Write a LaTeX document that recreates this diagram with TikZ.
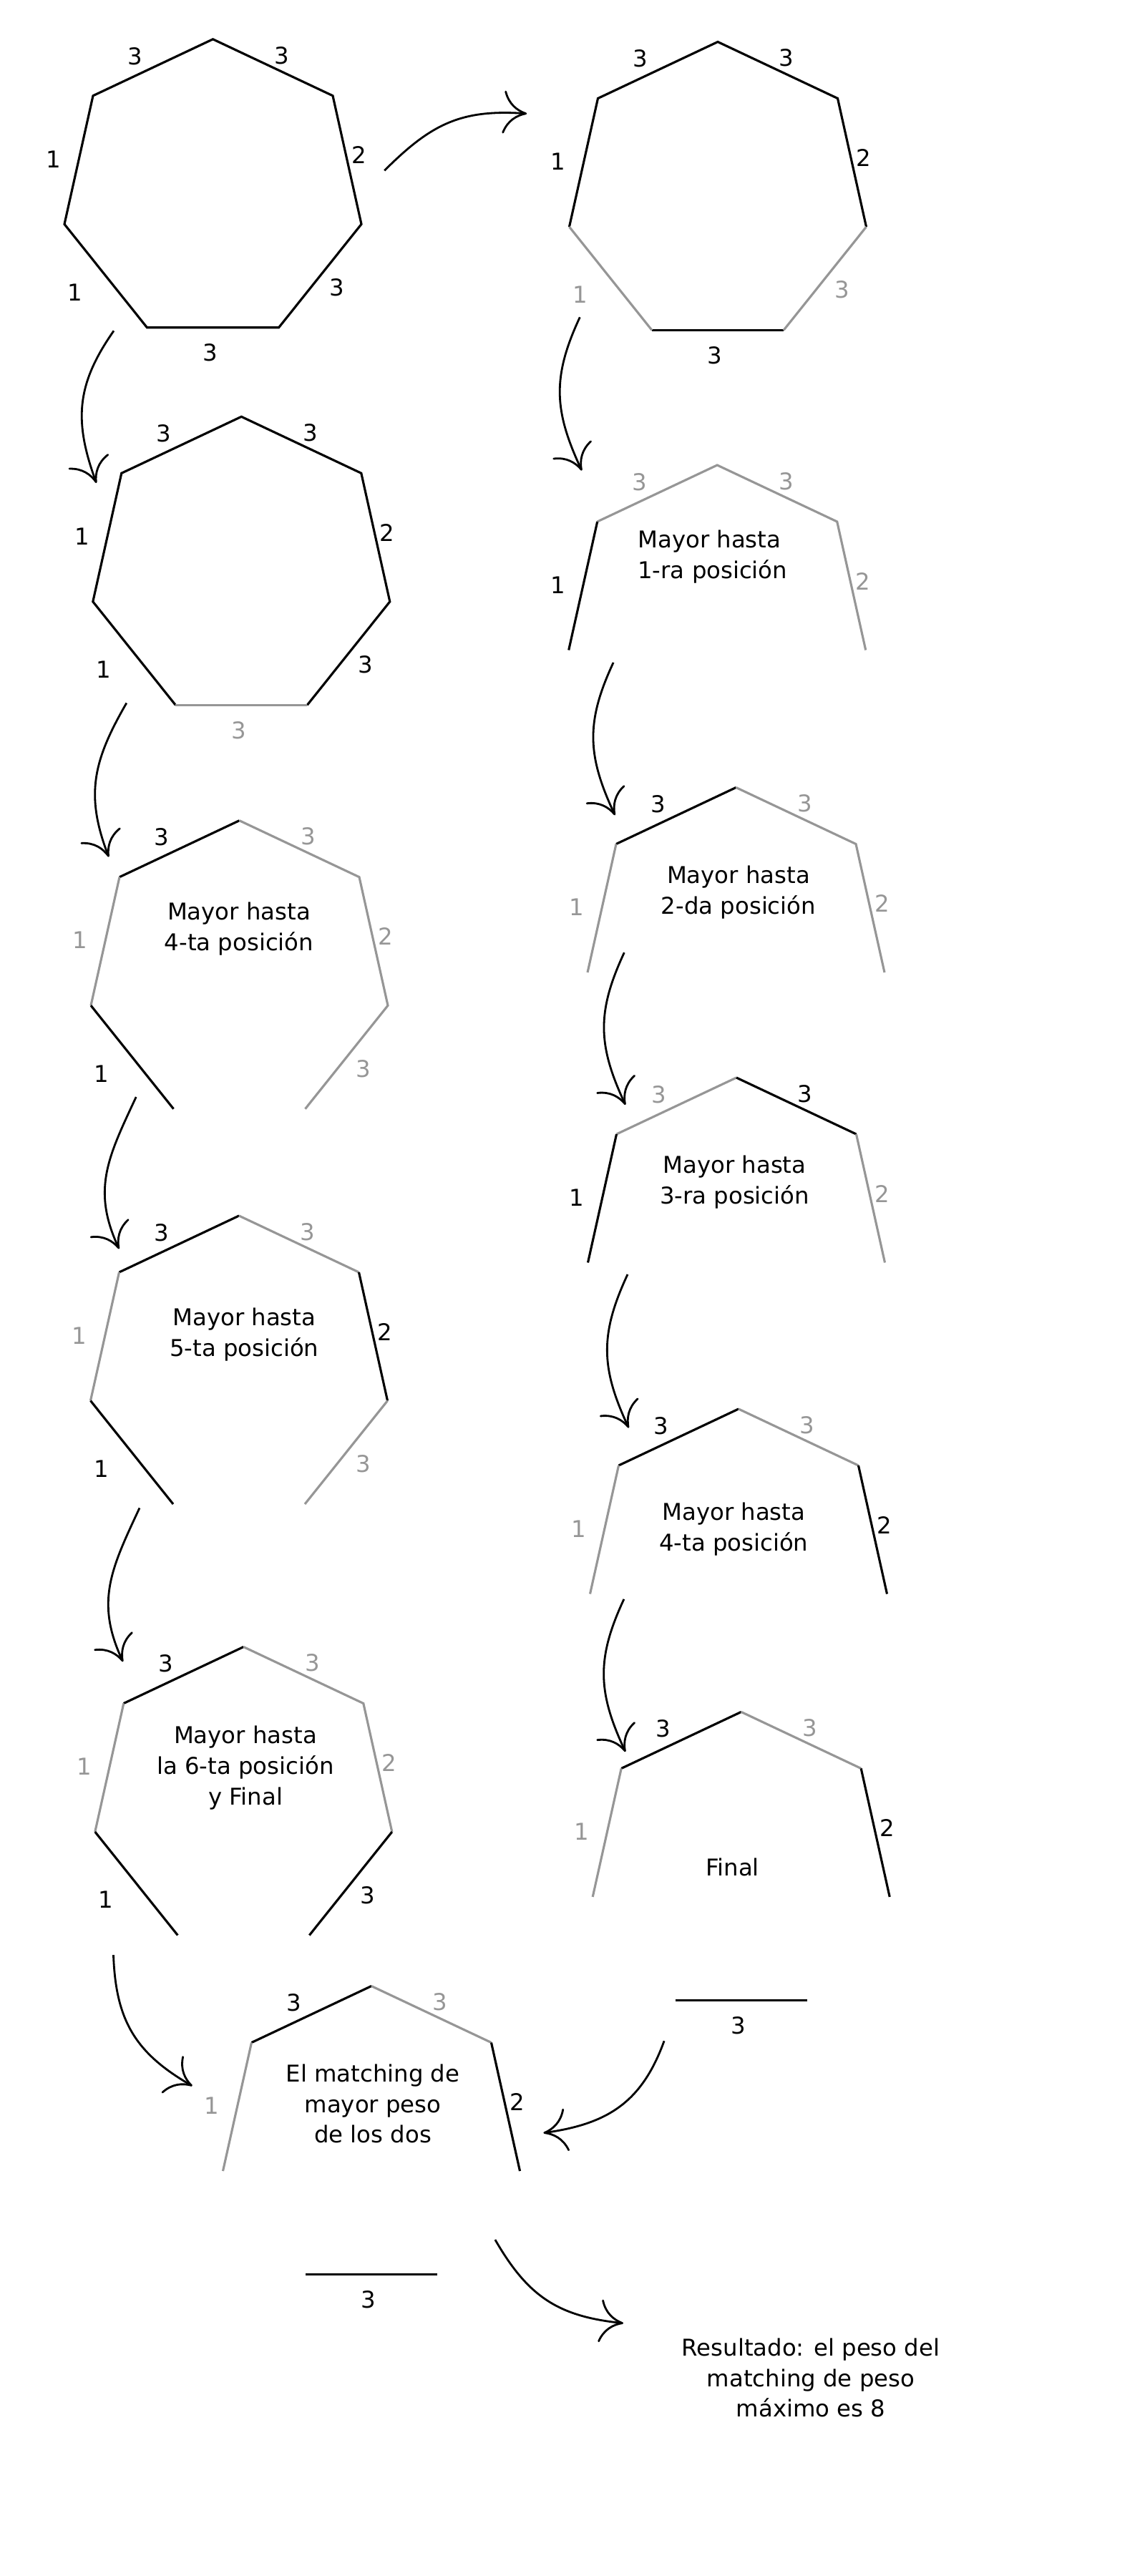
\documentclass[tikz,border=0pt]{standalone}
\usepackage{fontspec}
\setmainfont{DejaVu Sans}
\usetikzlibrary{arrows.meta}

\begin{document}
\begin{tikzpicture}[
  font=\fontsize{9.2}{12.2}\selectfont,
  chosen/.style={black, line width=0.9pt},
  skipped/.style={edgegray, line width=0.9pt},
  wk/.style={black},
  wg/.style={edgegray},
  rotulo/.style={align=center},
  flow/.style={-{Computer Modern Rightarrow[length=3.3mm,width=6mm]}, line width=0.8pt, looseness=1.1}
]
\definecolor{edgegray}{RGB}{150,150,150}
\useasboundingbox (0,0) rectangle (16,-36);

% ======================= COLUMNA IZQUIERDA =======================
% Heptagono inicial
\begin{scope}[shift={(2.975,-0.548)}]
  \draw[chosen] (0,0) -- (1.675,-0.79) -- (2.075,-2.585) -- (0.92,-4.03) -- (-0.92,-4.03) -- (-2.075,-2.585) -- (-1.675,-0.79) -- cycle;
  \node[wk] (A-tl) at (-1.085,-0.235) {3};
  \node[wk] (A-tr) at (0.962,-0.225) {3};
  \node[wk] (A-l) at (-2.228,-1.675) {1};
  \node[wk] (A-r) at (2.038,-1.62) {2};
  \node[wk] (A-ll) at (-1.925,-3.535) {1};
  \node[wk] (A-lr) at (1.735,-3.467) {3};
  \node[wk] (A-b) at (-0.04,-4.38) {3};
\end{scope}

% Sin la ultima arista
\begin{scope}[shift={(3.373,-5.823)}]
  \draw[chosen] (-0.92,-4.03) -- (-2.075,-2.585) -- (-1.675,-0.79) -- (0,0) -- (1.675,-0.79) -- (2.075,-2.585) -- (0.92,-4.03);
  \draw[skipped] (-0.92,-4.03) -- (0.92,-4.03);
  \node[wk] (C-tl) at (-1.085,-0.235) {3};
  \node[wk] (C-tr) at (0.962,-0.225) {3};
  \node[wk] (C-l) at (-2.228,-1.675) {1};
  \node[wk] (C-r) at (2.038,-1.62) {2};
  \node[wk] (C-ll) at (-1.925,-3.535) {1};
  \node[wk] (C-lr) at (1.735,-3.467) {3};
  \node[wg] (C-b) at (-0.04,-4.38) {3};
\end{scope}

% Mayor hasta 4-ta posicion
\begin{scope}[shift={(3.345,-11.467)}]
  \draw[chosen] (-1.675,-0.79) -- (0,0);
  \draw[skipped] (0,0) -- (1.675,-0.79) -- (2.075,-2.585) -- (0.92,-4.03);
  \draw[skipped] (-1.675,-0.79) -- (-2.075,-2.585);
  \draw[chosen] (-2.075,-2.585) -- (-0.92,-4.03);
  \node[wk] (E-tl) at (-1.085,-0.235) {3};
  \node[wg] (E-tr) at (0.962,-0.225) {3};
  \node[wg] (E-l) at (-2.228,-1.675) {1};
  \node[wg] (E-r) at (2.038,-1.62) {2};
  \node[wk] (E-ll) at (-1.925,-3.535) {1};
  \node[wg] (E-lr) at (1.735,-3.467) {3};
\end{scope}
\node[rotulo] (E-text) at (3.34,-12.984) {Mayor hasta\\4-ta posición};

% Mayor hasta 5-ta posicion
\begin{scope}[shift={(3.34,-16.99)}]
  \draw[chosen] (-1.675,-0.79) -- (0,0);
  \draw[skipped] (0,0) -- (1.675,-0.79);
  \draw[skipped] (-1.675,-0.79) -- (-2.075,-2.585);
  \draw[chosen] (1.675,-0.79) -- (2.075,-2.585);
  \draw[chosen] (-2.075,-2.585) -- (-0.92,-4.03);
  \draw[skipped] (2.075,-2.585) -- (0.92,-4.03);
  \node[wk] (K-tl) at (-1.085,-0.235) {3};
  \node[wg] (K-tr) at (0.962,-0.225) {3};
  \node[wg] (K-l) at (-2.228,-1.675) {1};
  \node[wk] (K-r) at (2.038,-1.62) {2};
  \node[wk] (K-ll) at (-1.925,-3.535) {1};
  \node[wg] (K-lr) at (1.735,-3.467) {3};
\end{scope}
\node[rotulo] (K-text) at (3.413,-18.653) {Mayor hasta\\5-ta posición};

% Mayor hasta la 6-ta posicion y Final
\begin{scope}[shift={(3.403,-23.015)}]
  \draw[chosen] (-1.675,-0.79) -- (0,0);
  \draw[skipped] (0,0) -- (1.675,-0.79) -- (2.075,-2.585);
  \draw[skipped] (-1.675,-0.79) -- (-2.075,-2.585);
  \draw[chosen] (-2.075,-2.585) -- (-0.92,-4.03);
  \draw[chosen] (2.075,-2.585) -- (0.92,-4.03);
  \node[wk] (L-tl) at (-1.085,-0.235) {3};
  \node[wg] (L-tr) at (0.962,-0.225) {3};
  \node[wg] (L-l) at (-2.228,-1.675) {1};
  \node[wg] (L-r) at (2.038,-1.62) {2};
  \node[wk] (L-ll) at (-1.925,-3.535) {1};
  \node[wk] (L-lr) at (1.735,-3.467) {3};
\end{scope}
\node[rotulo] (L-text) at (3.43,-24.703) {Mayor hasta\\la 6-ta posición\\y Final};

% ======================= COLUMNA DERECHA =======================
% Sin la primera arista
\begin{scope}[shift={(10.03,-0.585)}]
  \draw[chosen] (-2.075,-2.585) -- (-1.675,-0.79) -- (0,0) -- (1.675,-0.79) -- (2.075,-2.585);
  \draw[chosen] (-0.92,-4.03) -- (0.92,-4.03);
  \draw[skipped] (-2.075,-2.585) -- (-0.92,-4.03);
  \draw[skipped] (2.075,-2.585) -- (0.92,-4.03);
  \node[wk] (B-tl) at (-1.085,-0.235) {3};
  \node[wk] (B-tr) at (0.962,-0.225) {3};
  \node[wk] (B-l) at (-2.228,-1.675) {1};
  \node[wk] (B-r) at (2.038,-1.62) {2};
  \node[wg] (B-ll) at (-1.925,-3.535) {1};
  \node[wg] (B-lr) at (1.735,-3.467) {3};
  \node[wk] (B-b) at (-0.04,-4.38) {3};
\end{scope}

% Mayor hasta 1-ra posicion
\begin{scope}[shift={(10.022,-6.50)}]
  \draw[skipped] (-1.675,-0.79) -- (0,0) -- (1.675,-0.79) -- (2.075,-2.585);
  \draw[chosen] (-1.675,-0.79) -- (-2.075,-2.585);
  \node[wg] (D-tl) at (-1.085,-0.235) {3};
  \node[wg] (D-tr) at (0.962,-0.225) {3};
  \node[wk] (D-l) at (-2.228,-1.675) {1};
  \node[wg] (D-r) at (2.038,-1.62) {2};
\end{scope}
\node[align=left, anchor=west] (D-text) at (8.79,-7.783) {Mayor hasta\\1-ra posición};

% Mayor hasta 2-da posicion
\begin{scope}[shift={(10.285,-11.005)}]
  \draw[chosen] (-1.675,-0.79) -- (0,0);
  \draw[skipped] (0,0) -- (1.675,-0.79) -- (2.075,-2.585);
  \draw[skipped] (-1.675,-0.79) -- (-2.075,-2.585);
  \node[wk] (F-tl) at (-1.085,-0.235) {3};
  \node[wg] (F-tr) at (0.962,-0.225) {3};
  \node[wg] (F-l) at (-2.228,-1.675) {1};
  \node[wg] (F-r) at (2.038,-1.62) {2};
\end{scope}
\node[rotulo] (F-text) at (10.32,-12.475) {Mayor hasta\\2-da posición};

% Mayor hasta 3-ra posicion
\begin{scope}[shift={(10.29,-15.06)}]
  \draw[skipped] (-1.675,-0.79) -- (0,0);
  \draw[chosen] (0,0) -- (1.675,-0.79);
  \draw[chosen] (-1.675,-0.79) -- (-2.075,-2.585);
  \draw[skipped] (1.675,-0.79) -- (2.075,-2.585);
  \node[wg] (G-tl) at (-1.085,-0.235) {3};
  \node[wk] (G-tr) at (0.962,-0.225) {3};
  \node[wk] (G-l) at (-2.228,-1.675) {1};
  \node[wg] (G-r) at (2.038,-1.62) {2};
\end{scope}
\node[rotulo] (G-text) at (10.265,-16.518) {Mayor hasta\\3-ra posición};

% Mayor hasta 4-ta posicion
\begin{scope}[shift={(10.32,-19.69)}]
  \draw[chosen] (-1.675,-0.79) -- (0,0);
  \draw[skipped] (0,0) -- (1.675,-0.79);
  \draw[skipped] (-1.675,-0.79) -- (-2.075,-2.585);
  \draw[chosen] (1.675,-0.79) -- (2.075,-2.585);
  \node[wk] (H-tl) at (-1.085,-0.235) {3};
  \node[wg] (H-tr) at (0.962,-0.225) {3};
  \node[wg] (H-l) at (-2.228,-1.675) {1};
  \node[wk] (H-r) at (2.038,-1.62) {2};
\end{scope}
\node[rotulo] (H-text) at (10.253,-21.373) {Mayor hasta\\4-ta posición};

% Final
\begin{scope}[shift={(10.357,-23.924)}]
  \draw[chosen] (-1.675,-0.79) -- (0,0);
  \draw[skipped] (0,0) -- (1.675,-0.79);
  \draw[skipped] (-1.675,-0.79) -- (-2.075,-2.585);
  \draw[chosen] (1.675,-0.79) -- (2.075,-2.585);
  \draw[chosen] (-0.92,-4.03) -- (0.92,-4.03);
  \node[wk] (I-tl) at (-1.085,-0.235) {3};
  \node[wg] (I-tr) at (0.962,-0.225) {3};
  \node[wg] (I-l) at (-2.228,-1.675) {1};
  \node[wk] (I-r) at (2.038,-1.62) {2};
  \node[wk] (I-b) at (-0.04,-4.38) {3};
\end{scope}
\node[rotulo] (I-text) at (10.236,-26.098) {Final};

% ======================= RESULTADO =======================
\begin{scope}[shift={(5.19,-27.755)}]
  \draw[chosen] (-1.675,-0.79) -- (0,0);
  \draw[skipped] (0,0) -- (1.675,-0.79);
  \draw[skipped] (-1.675,-0.79) -- (-2.075,-2.585);
  \draw[chosen] (1.675,-0.79) -- (2.075,-2.585);
  \draw[chosen] (-0.92,-4.03) -- (0.92,-4.03);
  \node[wk] (J-tl) at (-1.085,-0.235) {3};
  \node[wg] (J-tr) at (0.962,-0.225) {3};
  \node[wg] (J-l) at (-2.228,-1.675) {1};
  \node[wk] (J-r) at (2.038,-1.62) {2};
  \node[wk] (J-b) at (-0.04,-4.38) {3};
\end{scope}
\node[rotulo] (J-text) at (5.21,-29.40) {El matching de\\mayor peso\\de los dos};

\node[rotulo] (res) at (11.33,-33.23) {Resultado: el peso del\\matching de peso\\máximo es 8};

% Flechas: puntos de salida y llegada
\coordinate (AB0) at (5.372,-2.384);   \coordinate (AB1) at (7.362,-1.588);
\coordinate (AC0) at (1.59,-4.623);    \coordinate (AC1) at (1.347,-6.75);
\coordinate (BD0) at (8.103,-4.433);   \coordinate (BD1) at (8.13,-6.576);
\coordinate (CE0) at (1.768,-9.825);   \coordinate (CE1) at (1.52,-11.976);
\coordinate (DF0) at (8.571,-9.259);   \coordinate (DF1) at (8.594,-11.393);
\coordinate (FG0) at (8.723,-13.312);  \coordinate (FG1) at (8.74,-15.44);
\coordinate (GH0) at (8.77,-17.81);    \coordinate (GH1) at (8.786,-19.955);
\coordinate (HI0) at (8.719,-22.348);  \coordinate (HI1) at (8.74,-24.482);
\coordinate (EK0) at (1.902,-15.33);   \coordinate (EK1) at (1.665,-17.454);
\coordinate (KL0) at (1.95,-21.074);   \coordinate (KL1) at (1.719,-23.223);
\coordinate (LJ0) at (1.585,-27.321);  \coordinate (LJ1) at (2.687,-29.151);
\coordinate (IJ0) at (9.281,-28.522);  \coordinate (IJ1) at (7.594,-29.808);
\coordinate (JR0) at (6.919,-31.30);   \coordinate (JR1) at (8.71,-32.467);

\draw[flow] (AB0) to[out=45,in=176] (AB1);
\draw[flow] (AC0) to[out=235,in=110] (AC1);
\draw[flow] (BD0) to[out=245,in=115] (BD1);
\draw[flow] (CE0) to[out=240,in=111] (CE1);
\draw[flow] (DF0) to[out=245,in=115] (DF1);
\draw[flow] (FG0) to[out=245,in=115] (FG1);
\draw[flow] (GH0) to[out=245,in=115] (GH1);
\draw[flow] (HI0) to[out=245,in=115] (HI1);
\draw[flow] (EK0) to[out=245,in=115] (EK1);
\draw[flow] (KL0) to[out=245,in=115] (KL1);
\draw[flow] (LJ0) to[out=272,in=150] (LJ1);
\draw[flow] (IJ0) to[out=250,in=8] (IJ1);
\draw[flow] (JR0) to[out=300,in=174] (JR1);

\end{tikzpicture}
\end{document}
